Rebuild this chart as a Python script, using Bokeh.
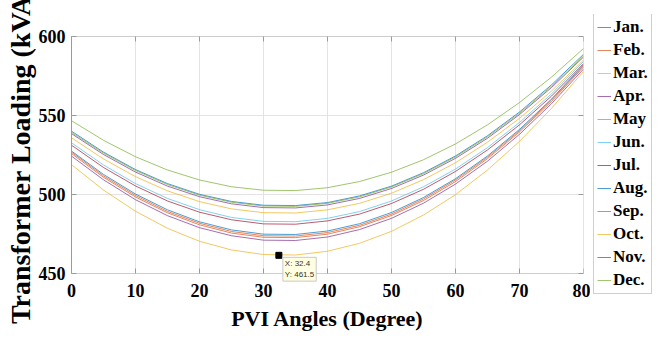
import math
from bokeh.plotting import figure
from bokeh.layouts import row
from bokeh.embed import file_html
from bokeh.resources import INLINE
from bokeh.models import Range1d, Legend, LegendItem, Label, FixedTicker, BoxAnnotation

# PVI angle (degree)
angles = [0, 5, 10, 15, 20, 25, 30, 35, 40, 45, 50, 55, 60, 65, 70, 75, 80]

# Transformer loading (kVA) per month
jan = [540.1, 526.8, 515.8, 506.9, 500.1, 495.6, 493.2, 493.0, 494.9, 499.1, 505.3, 513.8, 524.4, 537.2, 552.2, 569.4, 588.7]
feb = [526.8, 511.8, 499.4, 489.3, 481.8, 476.6, 473.9, 473.7, 475.9, 480.5, 487.6, 497.2, 509.2, 523.6, 540.4, 559.8, 581.5]
mar = [535.9, 522.5, 511.3, 502.3, 495.5, 490.9, 488.5, 488.3, 490.3, 494.4, 500.8, 509.4, 520.1, 533.1, 548.2, 565.5, 585.1]
apr = [538.5, 525.3, 514.2, 505.3, 498.6, 494.1, 491.7, 491.5, 493.4, 497.5, 503.8, 512.3, 522.9, 535.6, 550.6, 567.7, 587.0]
may = [546.7, 534.3, 523.9, 515.5, 509.2, 504.9, 502.7, 502.5, 504.3, 508.2, 514.1, 522.0, 532.0, 544.1, 558.2, 574.3, 592.4]
jun = [532.7, 518.7, 506.9, 497.5, 490.4, 485.5, 483.0, 482.8, 484.9, 489.2, 495.9, 504.9, 516.1, 529.7, 545.6, 563.7, 584.2]
jul = [531.2, 517.1, 505.4, 495.9, 488.8, 484.0, 481.4, 481.2, 483.3, 487.6, 494.3, 503.3, 514.6, 528.2, 544.1, 562.3, 582.8]
aug = [527.5, 512.7, 500.3, 490.3, 482.7, 477.6, 474.9, 474.7, 476.9, 481.5, 488.6, 498.1, 510.0, 524.4, 541.2, 560.4, 582.1]
sep = [525.9, 510.9, 498.4, 488.4, 480.8, 475.6, 472.9, 472.7, 474.9, 479.6, 486.7, 496.2, 508.2, 522.7, 539.6, 558.9, 580.7]
oct_ = [518.9, 502.8, 489.4, 478.6, 470.4, 464.9, 462.0, 461.7, 464.1, 469.1, 476.7, 487.0, 499.9, 515.5, 533.6, 554.5, 577.9]
nov = [524.3, 509.3, 496.7, 486.6, 479.0, 473.9, 471.1, 470.9, 473.1, 477.8, 484.9, 494.5, 506.6, 521.1, 538.1, 557.5, 579.4]
dec = [539.3, 526.2, 515.2, 506.3, 499.6, 495.1, 492.7, 492.5, 494.4, 498.5, 504.8, 513.2, 523.8, 536.5, 551.4, 568.5, 587.7]

months = ["Jan.", "Feb.", "Mar.", "Apr.", "May", "Jun.", "Jul.", "Aug.", "Sep.", "Oct.", "Nov.", "Dec."]
series = [jan, feb, mar, apr, may, jun, jul, aug, sep, oct_, nov, dec]
colors = ["#0072BD", "#D95319", "#EDB120", "#7E2F8E", "#77AC30", "#4DBEEE", "#A2142F",
          "#0072BD", "#D95319", "#EDB120", "#7E2F8E", "#77AC30"]

x_ticks = [0, 10, 20, 30, 40, 50, 60, 70, 80]
y_ticks = [450, 500, 550, 600]
x_lim = (0, 80)
y_lim = (450, 600)

# data tip
tip_x = 32.4
tip_y = 461.5

FONT = "Liberation Serif"
AX = "#9a9a9a"
GRID = "#e3e3e3"
LINE_ALPHA = 0.7

# The frame is taller than the axes box (36..273 px) so that the legend
# (15..294 px) and the data tip are not clipped.
box_top, box_bottom = 36, 273
frame_top, frame_bottom = 14, 295
ppu = (box_bottom - box_top) / (y_lim[1] - y_lim[0])
y_start = y_lim[0] - (frame_bottom - box_bottom) / ppu
y_end = y_lim[1] + (box_top - frame_top) / ppu

p = figure(frame_width=512, frame_height=frame_bottom - frame_top,
           x_range=Range1d(*x_lim), y_range=Range1d(y_start, y_end),
           output_backend="svg", toolbar_location=None,
           min_border_left=71, min_border_right=7, min_border_top=frame_top,
           min_border_bottom=338 - frame_bottom)
p.background_fill_color = "white"
p.border_fill_color = "white"
p.outline_line_color = None
p.grid.visible = False

# grid lines inside the axes box
p.segment(x0=x_ticks, y0=[y_lim[0]] * len(x_ticks), x1=x_ticks, y1=[y_lim[1]] * len(x_ticks),
          line_color=GRID, line_width=1)
p.segment(x0=[x_lim[0]] * len(y_ticks), y0=y_ticks, x1=[x_lim[1]] * len(y_ticks), y1=y_ticks,
          line_color=GRID, line_width=1)

for ys, c in zip(series, colors):
    p.line(angles, ys, line_color=c, line_width=1, line_alpha=LINE_ALPHA)

for ax in (p.xaxis[0], p.yaxis[0]):
    ax.axis_line_color = AX
    ax.major_tick_line_color = AX
    ax.major_tick_out = 0
    ax.minor_tick_line_color = None
    ax.major_label_text_font = FONT
    ax.major_label_text_font_style = "bold"
    ax.major_label_text_font_size = "18px"
    ax.major_label_text_color = "black"
    ax.axis_label_text_font = FONT
    ax.axis_label_text_font_style = "bold"
    ax.axis_label_text_color = "black"

p.xaxis.ticker = FixedTicker(ticks=x_ticks)
p.yaxis.ticker = FixedTicker(ticks=y_ticks)
p.yaxis.bounds = y_lim
p.xaxis.axis_line_color = None
p.xaxis.major_tick_in = 0
p.yaxis.major_tick_in = 5
p.xaxis.axis_label = "PVI Angles (Degree)"
p.yaxis.axis_label = "Transformer Loading (kVA)"
p.xaxis.axis_label_text_font_size = "22px"
p.yaxis.axis_label_text_font_size = "28px"
p.xaxis.major_label_standoff = 10 - (frame_bottom - box_bottom)
p.yaxis.major_label_standoff = 6
p.xaxis.axis_label_standoff = 6
p.yaxis.axis_label_standoff = 0

# inward ticks on bottom, top and right edges of the axes box
p.ray(x=x_ticks, y=[y_lim[0]] * len(x_ticks), length=5, length_units="screen",
      angle=math.pi / 2, line_color=AX, line_width=1)
p.ray(x=x_ticks, y=[y_lim[1]] * len(x_ticks), length=5, length_units="screen",
      angle=-math.pi / 2, line_color=AX, line_width=1)
p.ray(x=[x_lim[1]] * len(y_ticks), y=y_ticks, length=5, length_units="screen",
      angle=math.pi, line_color=AX, line_width=1)

# axes box
p.add_layout(BoxAnnotation(left=x_lim[0], right=x_lim[1], bottom=y_lim[0], top=y_lim[1],
                           fill_alpha=0, line_color=AX, line_width=1))

p.scatter([tip_x], [tip_y], marker="square", size=6, fill_color="black", line_color="black")
tip = Label(x=tip_x, y=tip_y, x_offset=4, y_offset=-2, text="X: %.1f\nY: %.1f" % (tip_x, tip_y),
            text_font="Liberation Sans", text_font_size="8px", text_color="#333333",
            text_baseline="top", text_align="left",
            background_fill_color="#ffffe1", border_line_color="#c8c8c8", padding=2)
p.add_layout(tip)

# legend panel to the right (its lines lie outside its own ranges, so only
# the legend glyphs show)
lp = figure(width=69, height=338, x_range=Range1d(0, 1), y_range=Range1d(0, 1),
            output_backend="svg", toolbar_location=None,
            x_axis_location=None, y_axis_location=None,
            min_border_left=0, min_border_right=0,
            min_border_top=frame_top, min_border_bottom=338 - frame_bottom)
lp.grid.visible = False
lp.outline_line_color = None
lp.background_fill_color = "white"
lp.border_fill_color = "white"
items = []
for name, ys, c in zip(months, series, colors):
    r = lp.line(angles, ys, line_color=c, line_width=1, line_alpha=LINE_ALPHA)
    items.append(LegendItem(label=name, renderers=[r]))
legend = Legend(items=items, location=(3, 1), orientation="vertical",
                label_text_font=FONT, label_text_font_style="bold", label_text_font_size="17px",
                label_text_color="black", glyph_width=14, glyph_height=20, label_height=20,
                label_standoff=2, spacing=3, padding=3, margin=0,
                border_line_color="#a0a0a0", border_line_width=1,
                background_fill_color="white", background_fill_alpha=1)
lp.add_layout(legend)

layout = row(p, lp, spacing=0)
open("out.html", "w").write(file_html(layout, INLINE))
